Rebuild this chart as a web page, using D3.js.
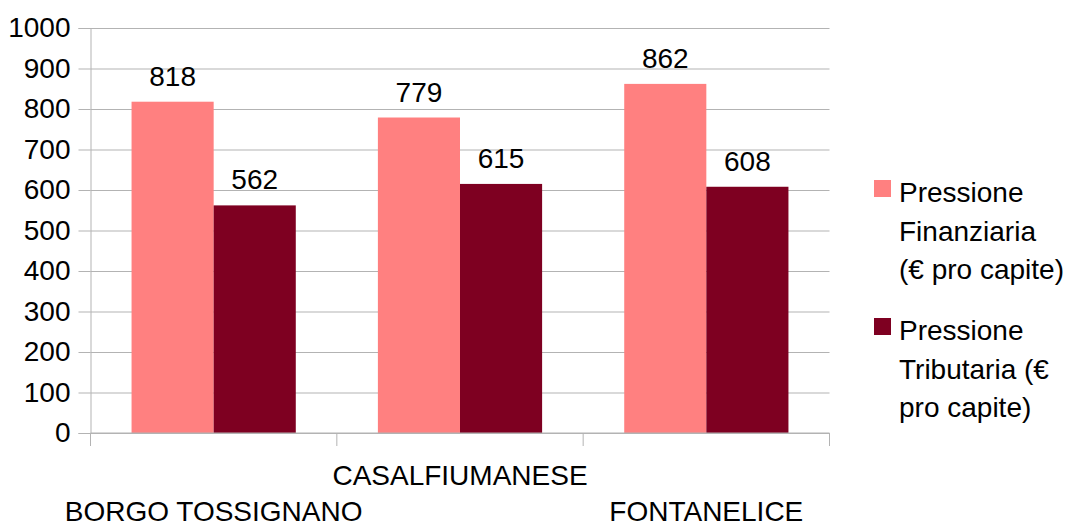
<!DOCTYPE html>
<html>
<head>
<meta charset="utf-8">
<script src="https://cdn.jsdelivr.net/npm/d3@7"></script>
<style>
  body { margin: 0; background: #fff; }
  svg { font-family: "Liberation Sans", Arial, sans-serif; }
  .grid line { stroke: #b3b3b3; }
  .grid path { display: none; }
</style>
</head>
<body>
<script>
(function () {
  'use strict';

  const comuni = ['BORGO TOSSIGNANO', 'CASALFIUMANESE', 'FONTANELICE'];
  const finanziaria = [818, 779, 862];
  const tributaria = [562, 615, 608];
  const yTicks = [0, 100, 200, 300, 400, 500, 600, 700, 800, 900, 1000];
  const serieNomi = [
    ['Pressione', 'Finanziaria', '(€ pro capite)'],
    ['Pressione', 'Tributaria (€', 'pro capite)']
  ];
  const colors = ['#ff8080', '#7e0021'];

  const W = 1070, H = 526;
  const plot = { left: 90.5, right: 829.5, top: 28, bottom: 433 };
  const fs = '28px';

  const svg = d3.select('body').append('svg')
    .attr('width', W)
    .attr('height', H);

  // scale
  const yScale = d3.scaleLinear().domain([0, 1000]).range([plot.bottom, plot.top]);
  const xScale = d3.scaleBand().domain(comuni).range([plot.left, plot.right]).paddingInner(0).paddingOuter(0);
  const sub = d3.scaleBand().domain([0, 1]).range([0, xScale.bandwidth()]).paddingInner(0).paddingOuter(0.5);

  // grid
  svg.append('g')
    .attr('class', 'grid')
    .attr('transform', `translate(${plot.left},0)`)
    .call(d3.axisLeft(yScale).tickValues(yTicks).tickSize(-(plot.right - plot.left)).tickFormat(''));

  // y axis
  const yAxis = svg.append('g')
    .attr('transform', `translate(${plot.left},0)`)
    .call(d3.axisLeft(yScale).tickValues(yTicks).tickSize(12).tickPadding(8).tickFormat(d3.format('d')));
  yAxis.select('.domain').attr('stroke', '#b3b3b3');
  yAxis.selectAll('.tick line').attr('stroke', '#b3b3b3');
  yAxis.selectAll('.tick text')
    .attr('font-size', fs)
    .attr('font-family', '"Liberation Sans", Arial, sans-serif')
    .attr('fill', '#000');

  // bars
  const series = [finanziaria, tributaria];
  series.forEach((vals, s) => {
    svg.append('g').selectAll('rect')
      .data(vals)
      .enter()
      .append('rect')
      .attr('x', (d, i) => xScale(comuni[i]) + sub(s))
      .attr('y', d => yScale(d))
      .attr('width', sub.bandwidth())
      .attr('height', d => yScale(0) - yScale(d))
      .attr('fill', colors[s]);

    svg.append('g').selectAll('text')
      .data(vals)
      .enter()
      .append('text')
      .attr('x', (d, i) => xScale(comuni[i]) + sub(s) + sub.bandwidth() / 2)
      .attr('y', d => yScale(d) - 16)
      .attr('text-anchor', 'middle')
      .attr('font-size', fs)
      .text(d => d);
  });

  // x axis
  const xAxis = svg.append('g')
    .attr('transform', `translate(0,${plot.bottom})`);
  xAxis.append('line')
    .attr('x1', plot.left).attr('x2', plot.right)
    .attr('stroke', '#b3b3b3');
  xAxis.selectAll('line.tk')
    .data(comuni.concat(['end']))
    .enter()
    .append('line')
    .attr('class', 'tk')
    .attr('x1', (d, i) => i < comuni.length ? xScale(d) : plot.right)
    .attr('x2', (d, i) => i < comuni.length ? xScale(d) : plot.right)
    .attr('y1', 0).attr('y2', 13)
    .attr('stroke', '#b3b3b3');
  xAxis.selectAll('text')
    .data(comuni)
    .enter()
    .append('text')
    .attr('x', d => xScale(d) + xScale.bandwidth() / 2)
    .attr('y', (d, i) => i % 2 === 1 ? 52 : 88)
    .attr('text-anchor', 'middle')
    .attr('font-size', fs)
    .text(d => d);

  // legend
  const legend = svg.append('g');
  const legY = [192, 330];
  serieNomi.forEach((righe, s) => {
    legend.append('rect')
      .attr('x', 874).attr('y', legY[s] - 12)
      .attr('width', 17).attr('height', 17)
      .attr('fill', colors[s]);
    righe.forEach((r, k) => {
      legend.append('text')
        .attr('x', 899)
        .attr('y', legY[s] + 10 + k * 38.5)
        .attr('font-size', fs)
        .text(r);
    });
  });
})();
</script>
</body>
</html>
